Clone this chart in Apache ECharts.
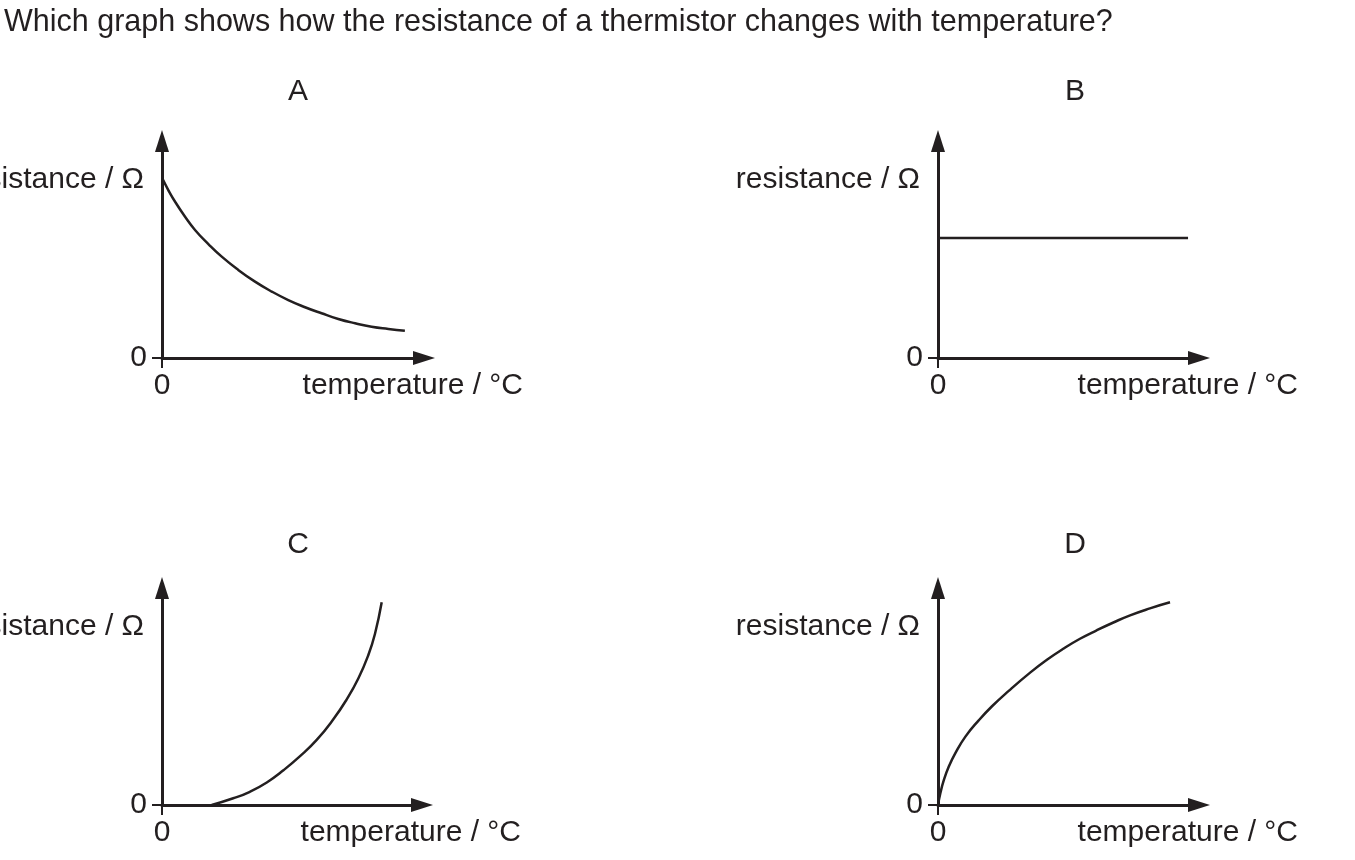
<!DOCTYPE html>
<html>
<head>
<meta charset="utf-8">
<script src="https://cdn.jsdelivr.net/npm/echarts@6/dist/echarts.min.js"></script>
<style>html,body{margin:0;padding:0;background:#fff}#c{width:1355px;height:860px}</style>
</head>
<body>
<div id="c"></div>
<script>
// ---- data (arbitrary units, axes run 0..100) ----
const questionText = 'Which graph shows how the resistance of a thermistor changes with temperature?';
const panelLetters = ['A', 'B', 'C', 'D'];
const xAxisName = 'temperature / °C';
const yAxisName = 'resistance / Ω';
const tickLabels = ['0'];

const tempA = [0.1, 2.4, 5.0, 8.8, 12.6, 17.7, 22.8, 29.1, 35.5, 41.9, 48.2, 54.6, 60.9, 67.3, 73.7, 80.0, 86.4, 92.7];
const resA  = [82.8, 77.4, 72.0, 65.1, 59.0, 52.5, 46.7, 40.6, 35.2, 30.6, 26.7, 23.4, 20.6, 18.0, 16.0, 14.4, 13.4, 12.6];

const tempB = [0, 95.8];
const resB  = [55.3, 55.3];

const tempC = [19.1, 27.4, 33.8, 40.3, 46.7, 53.1, 59.5, 65.9, 71.0, 75.5, 79.3, 81.9, 84.5];
const resC  = [0, 3.1, 6.1, 10.4, 16.0, 22.5, 30.0, 39.5, 48.6, 58.3, 68.9, 78.8, 93.4];

const tempD = [0, 0.9, 2.2, 4.1, 6.6, 10.5, 15.6, 20.7, 27.1, 35.3, 41.6, 48.0, 54.4, 60.8, 67.2, 73.6, 81.2, 88.9];
const resD  = [0, 5.4, 11.3, 17.6, 23.8, 31.5, 39.0, 45.5, 52.6, 61.0, 66.8, 72.0, 76.6, 80.5, 84.1, 87.4, 90.6, 93.4];

// ---- styling / layout ----
const INK = '#231f20';
const FONT = '"Liberation Sans", Arial, Helvetica, sans-serif';
const FS = 30;

const grids = [
  {left: 162, top: 141, width: 262, height: 217},
  {left: 938, top: 141, width: 261, height: 217},
  {left: 162, top: 588, width: 260, height: 217},
  {left: 938, top: 588, width: 261, height: 217}
];
const letterPos = [[298, 92], [1075, 92], [298, 545], [1075, 545]];
const seriesData = [[tempA, resA], [tempB, resB], [tempC, resC], [tempD, resD]];

const axisLine = {
  show: true,
  onZero: false,
  symbol: ['none', 'triangle'],
  symbolSize: [14, 22],
  lineStyle: {color: INK, width: 3}
};

const option = {
  backgroundColor: '#fff',
  animation: false,
  title: {
    text: questionText,
    left: 4,
    top: 7,
    padding: 0,
    textStyle: {fontFamily: FONT, fontSize: 30.5, fontWeight: 'normal', color: INK}
  },
  grid: grids.map(g => Object.assign({containLabel: false, outerBoundsMode: 'none'}, g)),
  xAxis: grids.map((g, i) => ({
    type: 'value', gridIndex: i, min: 0, max: 100,
    axisLine: axisLine,
    splitLine: {show: false},
    axisTick: {show: true, customValues: [0], length: 10, lineStyle: {color: INK, width: 2}},
    axisLabel: {show: true, customValues: [0], formatter: () => tickLabels[0], margin: 13,
      color: INK, fontFamily: FONT, fontSize: FS},
    name: xAxisName,
    nameLocation: 'end',
    nameGap: 99,
    nameMoveOverlap: false,
    nameTextStyle: {align: 'right', verticalAlign: 'top', padding: [13, 0, 0, 0],
      color: INK, fontFamily: FONT, fontSize: FS}
  })),
  yAxis: grids.map((g, i) => ({
    type: 'value', gridIndex: i, min: 0, max: 100,
    axisLine: axisLine,
    splitLine: {show: false},
    axisTick: {show: true, customValues: [0], length: 10, lineStyle: {color: INK, width: 2}},
    axisLabel: {show: true, customValues: [0], formatter: () => tickLabels[0], margin: 15,
      color: INK, fontFamily: FONT, fontSize: FS},
    name: yAxisName,
    nameLocation: 'end',
    nameGap: -39,
    nameMoveOverlap: false,
    nameTextStyle: {align: 'right', verticalAlign: 'middle', padding: [0, 18, 0, 0],
      color: INK, fontFamily: FONT, fontSize: FS}
  })),
  graphic: panelLetters.map((L, i) => ({
    type: 'text',
    x: letterPos[i][0],
    y: letterPos[i][1],
    style: {text: L, fill: INK, font: FS + 'px ' + FONT, align: 'center', verticalAlign: 'middle'}
  })),
  series: seriesData.map((d, i) => ({
    type: 'line',
    xAxisIndex: i,
    yAxisIndex: i,
    smooth: 0.5,
    showSymbol: false,
    silent: true,
    lineStyle: {color: INK, width: 2.5},
    data: d[0].map((x, k) => [x, d[1][k]])
  }))
};

const chart = echarts.init(document.getElementById('c'), null, {renderer: 'canvas'});
chart.setOption(option);
</script>
</body>
</html>
